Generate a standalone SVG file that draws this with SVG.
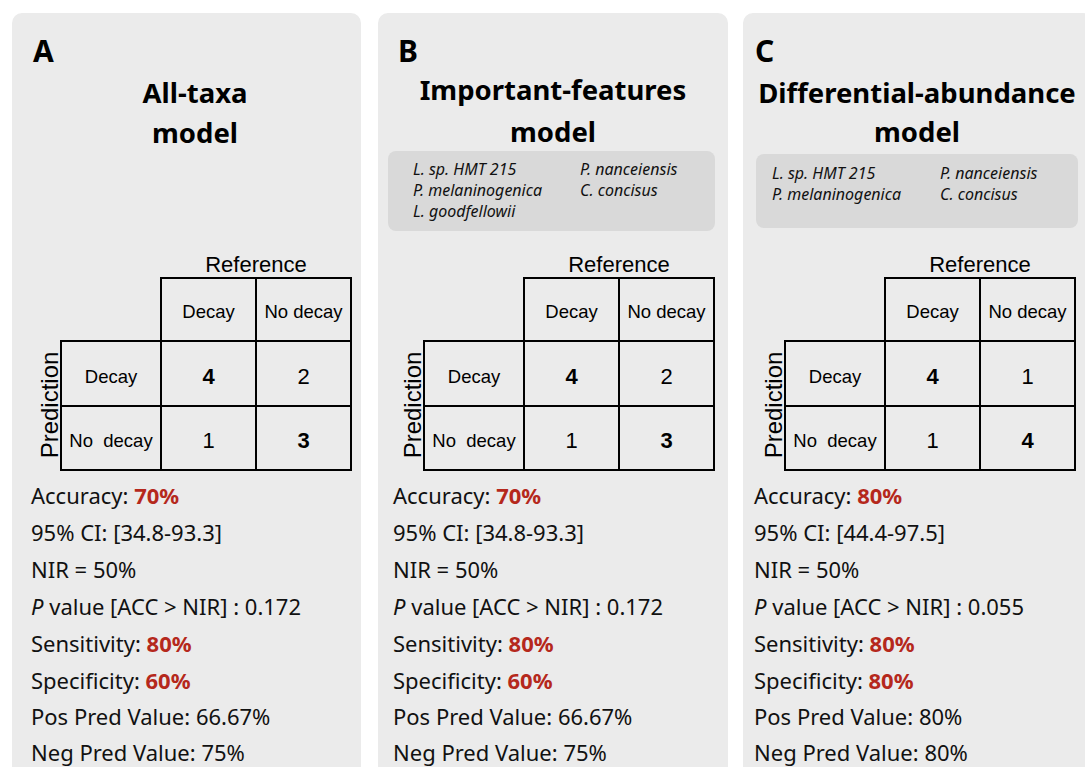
<svg xmlns="http://www.w3.org/2000/svg" width="1085" height="767" viewBox="0 0 1085 767">
<style>
.panel{fill:#ebebeb}
.taxbox{fill:#d9d9d9}
.letter{font-family:"Noto Sans",sans-serif;font-weight:bold;font-size:30px;fill:#000}
.title{font-family:"Noto Sans",sans-serif;font-weight:bold;font-size:27.5px;fill:#000;text-anchor:middle}
.tax{font-family:"Noto Sans",sans-serif;font-style:italic;font-size:16px;fill:#111}
.grid{fill:none;stroke:#000;stroke-width:2}
.ref{font-family:"Liberation Sans",sans-serif;font-size:22px;fill:#000;text-anchor:middle}
.cell{font-family:"Liberation Sans",sans-serif;font-size:18.5px;fill:#000;text-anchor:middle}
.num{font-family:"Liberation Sans",sans-serif;font-size:22px;fill:#000;text-anchor:middle}
.b{font-weight:bold}
.pred{font-family:"Liberation Sans",sans-serif;font-size:24px;fill:#000;text-anchor:middle}
.stat{font-family:"Noto Sans",sans-serif;font-size:22px;fill:#111}
.red{fill:#b5281c;font-weight:bold}
.it{font-style:italic}
</style>
<rect width="1085" height="767" fill="#ffffff"/>

<g id="panelA">
<rect class="panel" x="12" y="13" width="349" height="780" rx="10"/>
<text class="letter" x="33" y="62">A</text>
<text class="title" x="195" y="103">All-taxa</text>
<text class="title" x="195" y="143">model</text>
<g id="matrixA">
<path class="grid" d="M161,278 H351 V470 H61 V341 H161 Z M161,341 H351 M61,406 H351 M256,278 V470 M161,341 V470"/>
<text class="ref" x="256" y="272">Reference</text>
<text class="cell" x="208.5" y="318">Decay</text>
<text class="cell" x="303.5" y="318">No decay</text>
<text class="cell" x="111" y="383">Decay</text>
<text class="cell" x="111" y="447" xml:space="preserve">No  decay</text>
<text class="num b" x="208.5" y="384">4</text>
<text class="num" x="303.5" y="384">2</text>
<text class="num" x="208.5" y="448">1</text>
<text class="num b" x="303.5" y="448">3</text>
<text class="pred" transform="translate(58,405) rotate(-90)">Prediction</text>
</g>
<g id="statsA" class="stat">
<text x="31" y="504">Accuracy: <tspan class="red">70%</tspan></text>
<text x="31" y="541">95% CI: [34.8-93.3]</text>
<text x="31" y="578">NIR = 50%</text>
<text x="31" y="615"><tspan class="it">P</tspan> value [ACC &gt; NIR] : 0.172</text>
<text x="31" y="652">Sensitivity: <tspan class="red">80%</tspan></text>
<text x="31" y="689">Specificity: <tspan class="red">60%</tspan></text>
<text x="31" y="725">Pos Pred Value: 66.67%</text>
<text x="31" y="761">Neg Pred Value: 75%</text>
</g>
</g>

<g id="panelB">
<rect class="panel" x="378" y="13" width="350" height="780" rx="10"/>
<text class="letter" x="398" y="62">B</text>
<text class="title" x="553" y="100">Important-features</text>
<text class="title" x="553" y="142">model</text>
<g id="taxaB">
<rect class="taxbox" x="388" y="151" width="327" height="80" rx="8"/>
<text class="tax" x="413" y="175">L. sp. HMT 215</text>
<text class="tax" x="413" y="196">P. melaninogenica</text>
<text class="tax" x="413" y="217">L. goodfellowii</text>
<text class="tax" x="580" y="175">P. nanceiensis</text>
<text class="tax" x="580" y="196">C. concisus</text>
</g>
<g id="matrixB" transform="translate(363,0)">
<path class="grid" d="M161,278 H351 V470 H61 V341 H161 Z M161,341 H351 M61,406 H351 M256,278 V470 M161,341 V470"/>
<text class="ref" x="256" y="272">Reference</text>
<text class="cell" x="208.5" y="318">Decay</text>
<text class="cell" x="303.5" y="318">No decay</text>
<text class="cell" x="111" y="383">Decay</text>
<text class="cell" x="111" y="447" xml:space="preserve">No  decay</text>
<text class="num b" x="208.5" y="384">4</text>
<text class="num" x="303.5" y="384">2</text>
<text class="num" x="208.5" y="448">1</text>
<text class="num b" x="303.5" y="448">3</text>
<text class="pred" transform="translate(58,405) rotate(-90)">Prediction</text>
</g>
<g id="statsB" class="stat">
<text x="393" y="504">Accuracy: <tspan class="red">70%</tspan></text>
<text x="393" y="541">95% CI: [34.8-93.3]</text>
<text x="393" y="578">NIR = 50%</text>
<text x="393" y="615"><tspan class="it">P</tspan> value [ACC &gt; NIR] : 0.172</text>
<text x="393" y="652">Sensitivity: <tspan class="red">80%</tspan></text>
<text x="393" y="689">Specificity: <tspan class="red">60%</tspan></text>
<text x="393" y="725">Pos Pred Value: 66.67%</text>
<text x="393" y="761">Neg Pred Value: 75%</text>
</g>
</g>

<g id="panelC">
<rect class="panel" x="743" y="13" width="350" height="780" rx="10"/>
<text class="letter" x="755" y="62">C</text>
<text class="title" x="917" y="103">Differential-abundance</text>
<text class="title" x="917" y="142">model</text>
<g id="taxaC">
<rect class="taxbox" x="756" y="154" width="322" height="74" rx="8"/>
<text class="tax" x="772" y="179">L. sp. HMT 215</text>
<text class="tax" x="772" y="200">P. melaninogenica</text>
<text class="tax" x="940" y="179">P. nanceiensis</text>
<text class="tax" x="940" y="200">C. concisus</text>
</g>
<g id="matrixC" transform="translate(724,0)">
<path class="grid" d="M161,278 H351 V470 H61 V341 H161 Z M161,341 H351 M61,406 H351 M256,278 V470 M161,341 V470"/>
<text class="ref" x="256" y="272">Reference</text>
<text class="cell" x="208.5" y="318">Decay</text>
<text class="cell" x="303.5" y="318">No decay</text>
<text class="cell" x="111" y="383">Decay</text>
<text class="cell" x="111" y="447" xml:space="preserve">No  decay</text>
<text class="num b" x="208.5" y="384">4</text>
<text class="num" x="303.5" y="384">1</text>
<text class="num" x="208.5" y="448">1</text>
<text class="num b" x="303.5" y="448">4</text>
<text class="pred" transform="translate(58,405) rotate(-90)">Prediction</text>
</g>
<g id="statsC" class="stat">
<text x="754" y="504">Accuracy: <tspan class="red">80%</tspan></text>
<text x="754" y="541">95% CI: [44.4-97.5]</text>
<text x="754" y="578">NIR = 50%</text>
<text x="754" y="615"><tspan class="it">P</tspan> value [ACC &gt; NIR] : 0.055</text>
<text x="754" y="652">Sensitivity: <tspan class="red">80%</tspan></text>
<text x="754" y="689">Specificity: <tspan class="red">80%</tspan></text>
<text x="754" y="725">Pos Pred Value: 80%</text>
<text x="754" y="761">Neg Pred Value: 80%</text>
</g>
</g>
</svg>
